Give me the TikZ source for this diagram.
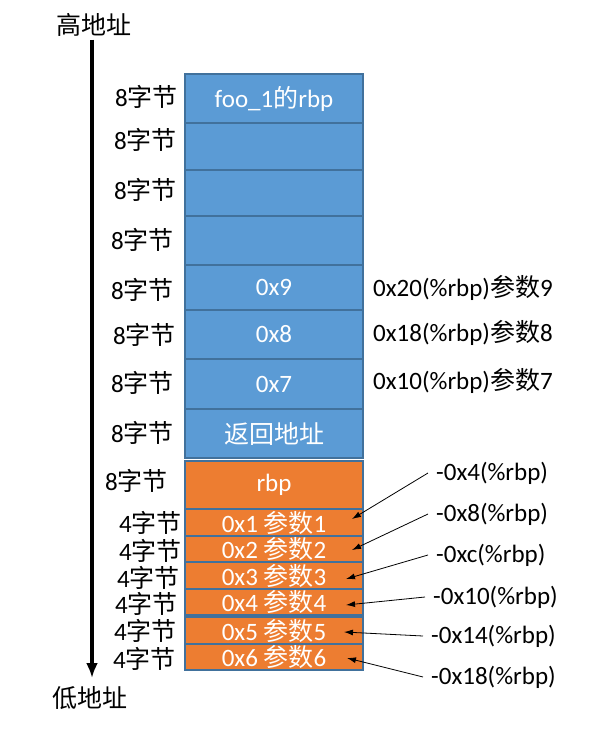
\documentclass[tikz,border=0pt]{standalone}
\usepackage{fontspec}
\setmainfont{Carlito}
\newfontfamily\cjk{Noto Sans CJK SC}
\usetikzlibrary{arrows.meta}
\definecolor{cellfillblue}{HTML}{5B9BD5}
\definecolor{cellfillorange}{HTML}{ED7D31}
\definecolor{cellline}{HTML}{41719C}
\tikzset{
  bigtext/.style={font=\fontsize{25}{29}\selectfont},
  cellblue/.style={draw=cellline,line width=1.2pt,fill=cellfillblue,text=white,bigtext,
    minimum width=178pt,inner sep=0pt,anchor=center},
  cellorange/.style={cellblue,fill=cellfillorange},
  sizelabel/.style={bigtext,anchor=east,inner sep=0pt},
  offlabel/.style={bigtext,anchor=west,inner sep=0pt},
  ptrlabel/.style={bigtext,anchor=west,inner ysep=0pt,inner xsep=8pt},
  ptr/.style={line width=0.8pt,-{Latex[length=9pt,width=6pt]}}
}
\begin{document}
\begin{tikzpicture}[x=1pt,y=-1pt]
\useasboundingbox (0,0) rectangle (610,737);
%axis
\node[bigtext,inner sep=0pt] (hi) at (94,25) {\cjk 高地址};
\node[bigtext,inner sep=0pt] (lo) at (90,698) {\cjk 低地址};
\draw[line width=3.5pt,-{Latex[length=15pt,width=12pt]}] (hi.south)++(-2,3) coordinate (axtop) -- (axtop|-0,678) coordinate (axend);
%stack, caller part
\node[cellblue,minimum height=49pt] (r1) at (274,98.5) {foo\_1{\cjk 的}rbp};
\node[cellblue,minimum height=47pt] (r2) at (274,146.5) {};
\node[cellblue,minimum height=46pt] (r3) at (274,193) {};
\node[cellblue,minimum height=49pt] (r4) at (274,240.5) {};
\node[cellblue,minimum height=45pt] (r5) at (274,287.5) {0x9};
\node[cellblue,minimum height=49pt] (r6) at (274,334.5) {0x8};
\node[cellblue,minimum height=50pt] (r7) at (274,384) {0x7};
\node[cellblue,minimum height=49pt] (r8) at (274,433.5) {\cjk 返回地址};
%stack, callee part
\node[cellorange,minimum height=48pt] (o0) at (274,485) {rbp};
\node[cellorange,minimum height=27pt] (o1) at (274,522.5) {0x1 {\cjk 参数}1};
\node[cellorange,minimum height=26pt] (o2) at (274,549) {0x2 {\cjk 参数}2};
\node[cellorange,minimum height=27pt] (o3) at (274,575.5) {0x3 {\cjk 参数}3};
\node[cellorange,minimum height=26pt] (o4) at (274,602) {0x4 {\cjk 参数}4};
\node[cellorange,minimum height=27pt] (o5) at (274,630.5) {0x5 {\cjk 参数}5};
\node[cellorange,minimum height=26pt] (o6) at (274,657) {0x6 {\cjk 参数}6};
%sizes
\node[sizelabel] (s1) at (178,97) {8{\cjk 字节}};
\node[sizelabel] (s2) at (177,140) {8{\cjk 字节}};
\node[sizelabel] (s3) at (177,190) {8{\cjk 字节}};
\node[sizelabel] (s4) at (174,240) {8{\cjk 字节}};
\node[sizelabel] (s5) at (174,290) {8{\cjk 字节}};
\node[sizelabel] (s6) at (176,335) {8{\cjk 字节}};
\node[sizelabel] (s7) at (174,383) {8{\cjk 字节}};
\node[sizelabel] (s8) at (174,433) {8{\cjk 字节}};
\node[sizelabel] (s9) at (168,481) {8{\cjk 字节}};
\node[sizelabel] (s10) at (182,523) {4{\cjk 字节}};
\node[sizelabel] (s11) at (182,551) {4{\cjk 字节}};
\node[sizelabel] (s12) at (180,578) {4{\cjk 字节}};
\node[sizelabel] (s13) at (178,604) {4{\cjk 字节}};
\node[sizelabel] (s14) at (177,631) {4{\cjk 字节}};
\node[sizelabel] (s15) at (176,659) {4{\cjk 字节}};
%offsets of args 7-9
\node[offlabel] (a9) at (373,288) {0x20(\%rbp){\cjk 参数}9};
\node[offlabel] (a8) at (373,333) {0x18(\%rbp){\cjk 参数}8};
\node[offlabel] (a7) at (373,381) {0x10(\%rbp){\cjk 参数}7};
%offsets of args 1-6
\node[ptrlabel] (l1) at (428,473) {-0x4(\%rbp)};
\node[ptrlabel] (l2) at (428,514) {-0x8(\%rbp)};
\node[ptrlabel] (l3) at (428,555) {-0xc(\%rbp)};
\node[ptrlabel] (l4) at (425,597) {-0x10(\%rbp)};
\node[ptrlabel] (l5) at (423,636) {-0x14(\%rbp)};
\node[ptrlabel] (l6) at (423,677) {-0x18(\%rbp)};
\coordinate (p1) at (352,519);
\coordinate (p2) at (352,550);
\coordinate (p3) at (346,579);
\coordinate (p4) at (346,605);
\coordinate (p5) at (344,632);
\coordinate (p6) at (347,658);
\draw[ptr](l1.west)--(p1);
\draw[ptr](l2.west)--(p2);
\draw[ptr](l3.west)--(p3);
\draw[ptr](l4.west)--(p4);
\draw[ptr](l5.west)--(p5);
\draw[ptr](l6.west)--(p6);
\end{tikzpicture}
\end{document}
